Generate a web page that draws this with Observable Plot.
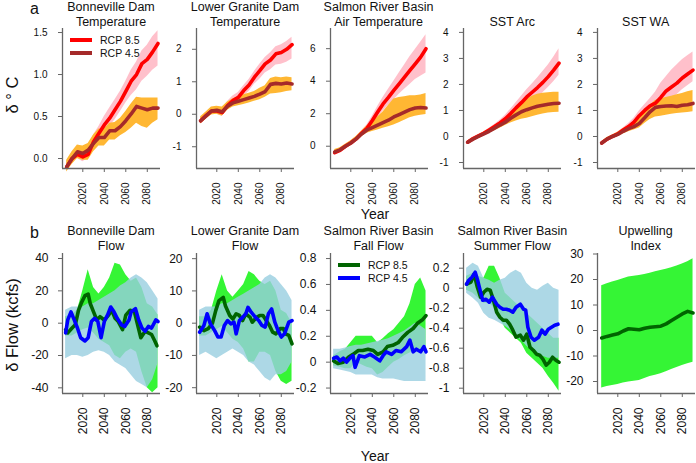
<!DOCTYPE html>
<html>
<head>
<meta charset="utf-8">
<script src="https://cdn.jsdelivr.net/npm/d3@7"></script>
<script src="https://cdn.jsdelivr.net/npm/@observablehq/plot@0.6"></script>
<style>
  html, body { margin: 0; padding: 0; background: #fff; }
  #fig { position: relative; width: 696px; height: 463px; background: #fff; overflow: hidden;
         font-family: "Liberation Sans", Arial, sans-serif; color: #111; }
  .abs { position: absolute; white-space: nowrap; }
  .title { text-align: center; font-size: 12.5px; line-height: 14.5px; width: 160px; }
  .leg { font-size: 10.5px; line-height: 12px; }
  .bar { position: absolute; height: 4px; }
</style>
</head>
<body>
<div id="fig"></div>
<script>
// ---------------- DATA ----------------
const xTicks = [2020, 2040, 2060, 2080];
const yrsA = [2005,2010,2015,2020,2025,2030,2035,2040,2045,2050,2055,2060,2065,2070,2075,2080,2085,2090];
const yrsB = [2004,2010,2015,2020,2025,2030,2035,2040,2045,2050,2055,2060,2065,2070,2075,2080,2085,2090];

// (a) temperature panels: RCP 8.5 (red/pink) and RCP 4.5 (brown/orange)
const a1_85    = [-0.1,0.0,0.05,0.02,0.05,0.2,0.3,0.4,0.48,0.58,0.68,0.8,0.92,1.0,1.13,1.18,1.27,1.37];
const a1_85_lo = [-0.14,-0.04,0.0,-0.04,0.0,0.12,0.22,0.3,0.38,0.46,0.56,0.66,0.75,0.82,0.92,0.98,1.05,1.1];
const a1_85_hi = [-0.06,0.04,0.1,0.08,0.12,0.28,0.38,0.5,0.6,0.7,0.8,0.92,1.05,1.15,1.28,1.35,1.45,1.52];
const a1_45    = [-0.1,0.0,0.08,0.06,0.1,0.18,0.25,0.25,0.33,0.33,0.38,0.45,0.53,0.62,0.6,0.58,0.6,0.6];
const a1_45_lo = [-0.16,-0.07,0.0,-0.02,-0.02,0.08,0.15,0.15,0.22,0.22,0.27,0.31,0.36,0.42,0.38,0.36,0.42,0.46];
const a1_45_hi = [-0.02,0.08,0.16,0.15,0.18,0.28,0.35,0.35,0.42,0.43,0.48,0.56,0.65,0.73,0.72,0.72,0.72,0.72];

const a2_85    = [-0.2,-0.04,0.1,0.1,0.05,0.27,0.42,0.52,0.73,0.9,1.14,1.34,1.55,1.67,1.86,1.9,2.0,2.14];
const a2_85_lo = [-0.28,-0.12,0.0,0.0,-0.07,0.15,0.27,0.37,0.55,0.7,0.92,1.08,1.27,1.37,1.52,1.54,1.6,1.7];
const a2_85_hi = [-0.12,0.04,0.2,0.2,0.17,0.39,0.56,0.67,0.88,1.07,1.32,1.54,1.75,1.89,2.08,2.14,2.24,2.37];
const a2_45    = [-0.2,-0.05,0.1,0.12,0.08,0.25,0.35,0.4,0.45,0.5,0.55,0.62,0.7,0.92,0.95,0.93,0.96,0.93];
const a2_45_lo = [-0.3,-0.15,-0.02,0.0,-0.05,0.12,0.22,0.26,0.3,0.35,0.4,0.45,0.52,0.62,0.64,0.66,0.7,0.72];
const a2_45_hi = [-0.08,0.07,0.22,0.25,0.22,0.38,0.48,0.54,0.6,0.65,0.7,0.8,0.88,1.1,1.15,1.12,1.15,1.12];

const a3_85    = [-0.4,-0.25,0.0,0.2,0.45,0.8,1.1,1.58,2.1,2.6,3.0,3.43,3.84,4.25,4.66,5.07,5.48,6.0];
const a3_85_lo = [-0.55,-0.38,-0.12,0.08,0.32,0.65,0.92,1.3,1.75,2.15,2.5,2.85,3.2,3.5,3.8,4.1,4.3,4.5];
const a3_85_hi = [-0.25,-0.12,0.12,0.32,0.58,0.95,1.3,1.85,2.45,3.0,3.5,4.0,4.5,5.0,5.5,5.95,6.4,6.85];
const a3_45    = [-0.35,-0.22,0.0,0.2,0.45,0.75,1.0,1.15,1.3,1.45,1.6,1.8,1.95,2.1,2.25,2.35,2.38,2.35];
const a3_45_lo = [-0.5,-0.35,-0.12,0.07,0.3,0.58,0.8,0.9,1.0,1.1,1.2,1.3,1.45,1.6,1.75,1.85,1.9,1.95];
const a3_45_hi = [-0.2,-0.1,0.12,0.33,0.6,0.92,1.25,1.5,1.8,2.1,2.5,2.9,3.0,3.05,3.1,3.1,3.15,3.25];

const a4_85    = [-0.22,-0.08,0.02,0.12,0.25,0.38,0.52,0.68,0.88,1.1,1.3,1.52,1.7,1.88,2.08,2.3,2.55,2.82];
const a4_85_lo = [-0.27,-0.13,-0.03,0.06,0.18,0.3,0.42,0.55,0.72,0.9,1.05,1.2,1.35,1.5,1.68,1.88,2.1,2.35];
const a4_85_hi = [-0.17,-0.03,0.07,0.18,0.32,0.46,0.62,0.82,1.05,1.3,1.55,1.8,2.02,2.25,2.5,2.75,3.05,3.37];
const a4_45    = [-0.22,-0.1,0.0,0.1,0.2,0.32,0.44,0.55,0.7,0.83,0.95,1.03,1.1,1.16,1.2,1.24,1.27,1.28];
const a4_45_lo = [-0.27,-0.15,-0.06,0.03,0.12,0.22,0.32,0.42,0.52,0.6,0.66,0.7,0.76,0.82,0.86,0.9,0.92,0.93];
const a4_45_hi = [-0.17,-0.05,0.06,0.17,0.28,0.42,0.56,0.7,0.88,1.05,1.25,1.42,1.55,1.62,1.66,1.68,1.7,1.7];

const a5_85    = [-0.25,-0.1,0.0,0.1,0.25,0.38,0.55,0.8,1.0,1.18,1.28,1.5,1.75,1.9,2.05,2.25,2.4,2.55];
const a5_85_lo = [-0.3,-0.15,-0.05,0.04,0.17,0.28,0.42,0.62,0.78,0.92,0.98,1.05,1.3,1.45,1.6,1.8,1.95,2.1];
const a5_85_hi = [-0.2,-0.05,0.05,0.17,0.33,0.5,0.7,0.98,1.22,1.45,1.7,2.05,2.3,2.55,2.75,2.95,3.1,3.25];
const a5_45    = [-0.25,-0.1,0.0,0.08,0.2,0.3,0.38,0.5,0.72,0.95,1.12,1.15,1.17,1.18,1.15,1.2,1.22,1.27];
const a5_45_lo = [-0.3,-0.16,-0.06,0.0,0.1,0.18,0.25,0.33,0.5,0.65,0.75,0.78,0.82,0.85,0.88,0.9,0.92,0.95];
const a5_45_hi = [-0.2,-0.04,0.06,0.16,0.3,0.42,0.52,0.66,0.95,1.2,1.38,1.45,1.5,1.55,1.6,1.65,1.72,1.77];

// (b) flow panels: RCP 8.5 (dark green / green) and RCP 4.5 (blue / light blue)
const b1_85_yr = [2004,2006,2010,2013,2016,2019,2022,2025,2027,2030,2033,2036,2040,2044,2047,2050,2053,2057,2060,2064,2068,2071,2074,2078,2081,2084,2087,2089];
const b1_85    = [-4,-6,-3,-1,8,13,17,18,12,7,2,4,2,5,8,3,1,-4,5,8,7,-1,-9,-5,-6,-7,-11,-14];
const b1_45_yr = [2004,2006,2009,2012,2015,2018,2022,2025,2028,2031,2034,2037,2040,2043,2046,2049,2052,2056,2059,2063,2065,2069,2072,2075,2078,2081,2084,2088,2090];
const b1_45    = [-6,2,7,2,-3,-9,-11,-9,1,3,1,-9,1,5,10,7,3,-1,-2,2,7,9,2,-3,-5,-2,-3,2,1];
const b1_85_lo = [-8,-8,-6,-4,-3,-6,-10,-12,-14,-20,-22,-18,-16,-18,-30,-40,-43,-40];
const b1_85_hi = [4,5,8,20,33,22,18,22,28,37,36,30,26,28,22,12,10,5];
const b1_45_lo = [-22,-20,-20,-21,-20,-18,-17,-18,-20,-24,-26,-28,-32,-36,-38,-40,-35,-25];
const b1_45_hi = [8,10,10,10,12,12,14,16,18,20,23,25,28,30,28,25,20,15];

const b2_85_yr = [2004,2008,2012,2016,2019,2022,2026,2028,2032,2035,2038,2041,2044,2047,2051,2053,2057,2060,2063,2066,2069,2072,2075,2079,2082,2084,2087,2090];
const b2_85    = [-1.2,-2.3,-1.7,0,3.9,7,8,5.4,2.4,1.3,2.9,2.4,0.8,2.9,1.8,0.3,1.8,2.4,2.4,0.8,-0.7,-2.8,-3.3,-1.7,-1.7,-3.3,-3.8,-6.4];
const b2_45_yr = [2004,2008,2011,2014,2018,2021,2024,2027,2030,2033,2036,2038,2041,2044,2047,2049,2052,2056,2059,2062,2065,2068,2071,2074,2077,2080,2083,2087,2090];
const b2_45    = [-2.8,-0.7,2.9,-0.2,-2.3,-4.3,-4.3,-0.7,0.8,-0.2,0.3,-3.3,0.8,1.8,2.9,4.9,3.4,1.8,0.8,-0.7,-1.2,2.9,4.4,0.3,-2.3,-4.3,-3.3,0.3,0.8];
const b2_85_lo = [-4,-4,-3,-2,-1,-3,-5,-6,-8,-12,-12,-9,-9,-10,-15,-18,-19,-18];
const b2_85_hi = [2,2,4,10,15,10,8,10,12,16,15,13,12,13,10,4,3,0];
const b2_45_lo = [-10,-9,-10,-11,-10,-9,-8,-9,-10,-12,-13,-15,-17,-18,-16,-16,-15,-12];
const b2_45_hi = [4,5,5,5,6,6,7,8,9,10,11,12,14,15,14,12,10,7];

const b3_85_yr = [2004,2008,2013,2018,2022,2027,2031,2036,2041,2045,2050,2054,2059,2064,2068,2073,2078,2082,2087,2090];
const b3_85    = [0.01,-0.01,0.0,0.04,0.06,0.09,0.09,0.1,0.09,0.06,0.08,0.12,0.13,0.15,0.19,0.23,0.26,0.3,0.33,0.36];
const b3_45_yr = [2004,2007,2010,2013,2016,2019,2022,2024,2028,2033,2038,2042,2047,2050,2053,2058,2062,2067,2072,2075,2078,2081,2085,2088,2090];
const b3_45    = [0.03,0.04,0.01,0.03,0.0,0.03,0.05,-0.04,0.05,0.04,0.06,0.04,0.01,0.05,0.08,0.06,0.09,0.08,0.12,0.17,0.08,0.1,0.08,0.12,0.08];
const b3_85_lo = [-0.03,-0.04,-0.05,-0.05,0.0,-0.02,-0.04,-0.05,-0.1,-0.08,-0.04,0.0,0.02,0.05,0.07,0.1,0.1,0.1];
const b3_85_hi = [0.05,0.08,0.1,0.15,0.2,0.2,0.2,0.2,0.15,0.18,0.22,0.25,0.3,0.35,0.45,0.6,0.65,0.55];
const b3_45_lo = [-0.05,-0.06,-0.07,-0.08,-0.1,-0.1,-0.1,-0.1,-0.12,-0.13,-0.13,-0.13,-0.14,-0.15,-0.15,-0.15,-0.15,-0.15];
const b3_45_hi = [0.1,0.1,0.11,0.12,0.13,0.13,0.14,0.15,0.16,0.17,0.18,0.2,0.22,0.24,0.27,0.3,0.28,0.25];

const b4_85_yr = [2004,2008,2011,2014,2017,2020,2023,2026,2029,2032,2035,2038,2041,2044,2047,2050,2054,2057,2060,2063,2066,2069,2072,2075,2078,2081,2084,2087,2090];
const b4_85    = [0.04,0.06,0.14,0.01,-0.09,-0.04,-0.01,-0.02,-0.12,-0.24,-0.29,-0.32,-0.32,-0.36,-0.42,-0.49,-0.47,-0.52,-0.46,-0.59,-0.62,-0.66,-0.67,-0.71,-0.77,-0.74,-0.69,-0.72,-0.74];
const b4_45_yr = [2004,2006,2009,2012,2014,2017,2019,2022,2025,2028,2032,2035,2038,2041,2044,2047,2050,2054,2057,2059,2061,2064,2067,2071,2074,2077,2080,2083,2086,2089];
const b4_45    = [0.04,0.08,0.11,0.16,0.09,-0.04,-0.12,-0.11,-0.14,-0.09,-0.16,-0.19,-0.21,-0.21,-0.22,-0.24,-0.19,-0.16,-0.21,-0.22,-0.39,-0.49,-0.52,-0.49,-0.42,-0.46,-0.41,-0.39,-0.37,-0.36];
const b4_85_lo = [-0.02,-0.05,-0.1,-0.15,-0.15,-0.2,-0.3,-0.4,-0.45,-0.5,-0.55,-0.65,-0.7,-0.75,-0.8,-0.88,-0.95,-1.03];
const b4_85_hi = [0.12,0.15,0.12,0.1,0.22,0.22,0.1,-0.05,-0.1,-0.15,-0.2,-0.25,-0.3,-0.35,-0.4,-0.45,-0.5,-0.5];
const b4_45_lo = [-0.05,-0.1,-0.15,-0.25,-0.3,-0.32,-0.35,-0.38,-0.42,-0.48,-0.52,-0.58,-0.62,-0.65,-0.68,-0.7,-0.7,-0.7];
const b4_45_hi = [0.2,0.25,0.22,0.1,0.08,0.05,0.08,0.1,0.15,0.18,0.15,0.05,0.0,-0.02,0.02,0.05,0.0,-0.02];

const b5_yr   = [2005,2010,2015,2020,2025,2030,2035,2040,2045,2050,2055,2060,2065,2070,2075,2080,2085,2090];
const b5_mean = [-2.9,-2.3,-1.8,-1.3,-0.2,0.7,0.5,0.3,0.9,1.3,1.5,1.7,2.6,3.9,5.2,6.5,7.5,6.9];
const b5_lo   = [-22.5,-22,-21.6,-21.2,-20.6,-20.2,-19.9,-19.6,-18.8,-18,-17.5,-17,-16.2,-15.3,-14.5,-13.7,-13,-12.4];
const b5_hi   = [17.6,18.3,19,19.6,20.3,21,21.3,21.6,22,22.5,23,23.5,24,24.6,25.3,26.1,27,28.1];

// tick labels
const a1_ticks = [0, 0.5, 1, 1.5];
const a2_ticks = [-1, 0, 1, 2];
const a3_ticks = [0, 2, 4, 6];
const a4_ticks = [-1, 0, 1, 2, 3, 4];
const a5_ticks = [-1, 0, 1, 2, 3, 4];
const b1_ticks = [-40, -20, 0, 20, 40];
const b2_ticks = [-20, -10, 0, 10, 20];
const b3_ticks = [-0.2, 0, 0.2, 0.4, 0.6, 0.8];
const b4_ticks = [-1, -0.8, -0.6, -0.4, -0.2, 0, 0.2];
const b5_ticks = [-20, -10, 0, 10, 20, 30];

const titlesA = [["Bonneville Dam","Temperature"],["Lower Granite Dam","Temperature"],["Salmon River Basin","Air Temperature"],["","SST Arc"],["","SST WA"]];
const titlesB = [["Bonneville Dam","Flow"],["Lower Granite Dam","Flow"],["Salmon River Basin","Fall Flow"],["Salmon River Basin","Summer Flow"],["Upwelling","Index"]];
const seriesNames = ["RCP 8.5", "RCP 4.5"];

// ---------------- COLOURS ----------------
const RED = "#FF0000", BROWN = "#A52A2A", PINK = "#FFC0CB", ORANGE = "#FFB733";
const DGREEN = "#006400", BLUE = "#0000FF", LGREEN = "#35F535", LBLUE = "#98CEE0";

// ---------------- LAYOUT ----------------
const fig = document.getElementById("fig");
const X_DOMAIN = [2001.1, 2092.3];
const axisXs = [62, 196, 329.5, 463.3, 596.7];
const PW = 98, PH = 140, ML = 40, MR = 2, MT = 6, MB = 46;
const rowTop = {a: 28, b: 253};

function pts(x, y) { return x.map((d, i) => ({x: d, y: y[i]})); }
function band(x, lo, hi) { return x.map((d, i) => ({x: d, lo: lo[i], hi: hi[i]})); }

function panel(col, row, cfg) {
  const fs = row === "a" ? 10 : 12;
  const pad = row === "a" ? 11 : 10;
  const marks = [];
  for (const b of cfg.bands) {
    marks.push(Plot.areaY(band(b.x, b.lo, b.hi), {x: "x", y1: "lo", y2: "hi", fill: b.fill, fillOpacity: b.op ?? 1}));
  }
  for (const l of cfg.lines) {
    marks.push(Plot.lineY(pts(l.x, l.y), {x: "x", y: "y", stroke: l.stroke, strokeWidth: 3.6, strokeLinejoin: "round", strokeLinecap: "round"}));
  }
  marks.push(Plot.ruleX([X_DOMAIN[0]], {stroke: "#666", strokeWidth: 1.3}));
  marks.push(Plot.ruleY([cfg.yDomain[0]], {stroke: "#666", strokeWidth: 1.3}));
  marks.push(Plot.axisY(cfg.yTicks, {tickSize: 4, tickPadding: pad, tickFormat: cfg.fmt || (d => String(d)),
    fontSize: fs, stroke: "#666", fill: "#111", label: null}));
  marks.push(Plot.axisX(xTicks, {tickSize: 4, tickPadding: 10, tickRotate: -90, textAnchor: "end", lineAnchor: "middle",
    tickFormat: d => String(d), fontSize: fs, stroke: "#666", fill: "#111", label: null}));
  const svg = Plot.plot({
    width: ML + PW + MR, height: MT + PH + MB,
    marginLeft: ML, marginRight: MR, marginTop: MT, marginBottom: MB,
    x: {domain: X_DOMAIN, label: null},
    y: {domain: cfg.yDomain, label: null},
    style: {fontFamily: "'Liberation Sans', Arial, sans-serif", background: "transparent", overflow: "visible", color: "#111"},
    marks
  });
  svg.style.position = "absolute";
  svg.style.left = (axisXs[col] - ML) + "px";
  svg.style.top = (rowTop[row] - MT) + "px";
  fig.appendChild(svg);
}

function tempPanel(col, dom, ticks, d85, lo85, hi85, d45, lo45, hi45, fmt) {
  panel(col, "a", {yDomain: dom, yTicks: ticks, fmt,
    bands: [{x: yrsA, lo: lo85, hi: hi85, fill: PINK}, {x: yrsA, lo: lo45, hi: hi45, fill: ORANGE}],
    lines: [{x: yrsA, y: d85, stroke: RED}, {x: yrsA, y: d45, stroke: BROWN}]});
}
function flowPanel(col, dom, ticks, x85, d85, lo85, hi85, x45, d45, lo45, hi45) {
  panel(col, "b", {yDomain: dom, yTicks: ticks,
    bands: [{x: yrsB, lo: lo85, hi: hi85, fill: LGREEN}, {x: yrsB, lo: lo45, hi: hi45, fill: LBLUE, op: 0.8}],
    lines: [{x: x85, y: d85, stroke: DGREEN}, {x: x45, y: d45, stroke: BLUE}]});
}

tempPanel(0, [-0.119, 1.548], a1_ticks, a1_85, a1_85_lo, a1_85_hi, a1_45, a1_45_lo, a1_45_hi, d => d.toFixed(1));
tempPanel(1, [-1.67, 2.64], a2_ticks, a2_85, a2_85_lo, a2_85_hi, a2_45, a2_45_lo, a2_45_hi);
tempPanel(2, [-1.37, 7.24], a3_ticks, a3_85, a3_85_lo, a3_85_hi, a3_45, a3_45_lo, a3_45_hi);
tempPanel(3, [-1.23, 4.15], a4_ticks, a4_85, a4_85_lo, a4_85_hi, a4_45, a4_45_lo, a4_45_hi);
tempPanel(4, [-1.23, 4.15], a5_ticks, a5_85, a5_85_lo, a5_85_hi, a5_45, a5_45_lo, a5_45_hi);

flowPanel(0, [-43.5, 43.1], b1_ticks, b1_85_yr, b1_85, b1_85_lo, b1_85_hi, b1_45_yr, b1_45, b1_45_lo, b1_45_hi);
flowPanel(1, [-21.8, 21.6], b2_ticks, b2_85_yr, b2_85, b2_85_lo, b2_85_hi, b2_45_yr, b2_45, b2_45_lo, b2_45_hi);
flowPanel(2, [-0.242, 0.839], b3_ticks, b3_85_yr, b3_85, b3_85_lo, b3_85_hi, b3_45_yr, b3_45, b3_45_lo, b3_45_hi);
flowPanel(3, [-1.053, 0.347], b4_ticks, b4_85_yr, b4_85, b4_85_lo, b4_85_hi, b4_45_yr, b4_45, b4_45_lo, b4_45_hi);
panel(4, "b", {yDomain: [-24.7, 30.2], yTicks: b5_ticks,
  bands: [{x: b5_yr, lo: b5_lo, hi: b5_hi, fill: LGREEN}],
  lines: [{x: b5_yr, y: b5_mean, stroke: DGREEN}]});

// ---------------- TEXT ----------------
function addText(txt, cls, css) {
  const d = document.createElement("div");
  d.className = "abs " + cls;
  d.textContent = txt;
  Object.assign(d.style, css);
  fig.appendChild(d);
  return d;
}
function titles(list, top) {
  list.forEach((t, i) => {
    const cx = axisXs[i] + PW / 2;
    t.forEach((line, j) => {
      if (line) addText(line, "title", {left: (cx - 80) + "px", top: (top + j * 14.5) + "px"});
    });
  });
}
titles(titlesA, 0);
titles(titlesB, 224.3);

addText("a", "", {left: "30px", top: "0px", fontSize: "16px", lineHeight: "18px"});
addText("b", "", {left: "30px", top: "224px", fontSize: "16px", lineHeight: "18px"});

addText("Year", "", {left: "345px", top: "206px", width: "60px", textAlign: "center", fontSize: "14px"});
addText("Year", "", {left: "345px", top: "448px", width: "60px", textAlign: "center", fontSize: "14px"});

addText("\u03B4 \u00B0 C", "", {left: "-38px", top: "85px", width: "100px", textAlign: "center", fontSize: "16.5px", lineHeight: "20px", transform: "rotate(-90deg)"});
addText("\u03B4 Flow (kcfs)", "", {left: "-63px", top: "315px", width: "150px", textAlign: "center", fontSize: "16.5px", lineHeight: "20px", transform: "rotate(-90deg)"});

// legends
function legend(x, y, cols) {
  seriesNames.forEach((name, i) => {
    const b = document.createElement("div");
    b.className = "bar";
    Object.assign(b.style, {left: x + "px", top: (y + i * 13 - 2) + "px", width: "22px", background: cols[i]});
    fig.appendChild(b);
    addText(name, "leg", {left: (x + 30) + "px", top: (y + i * 13 - 6) + "px"});
  });
}
legend(70, 40, [RED, BROWN]);
legend(338, 265, [DGREEN, BLUE]);
</script>
</body>
</html>
